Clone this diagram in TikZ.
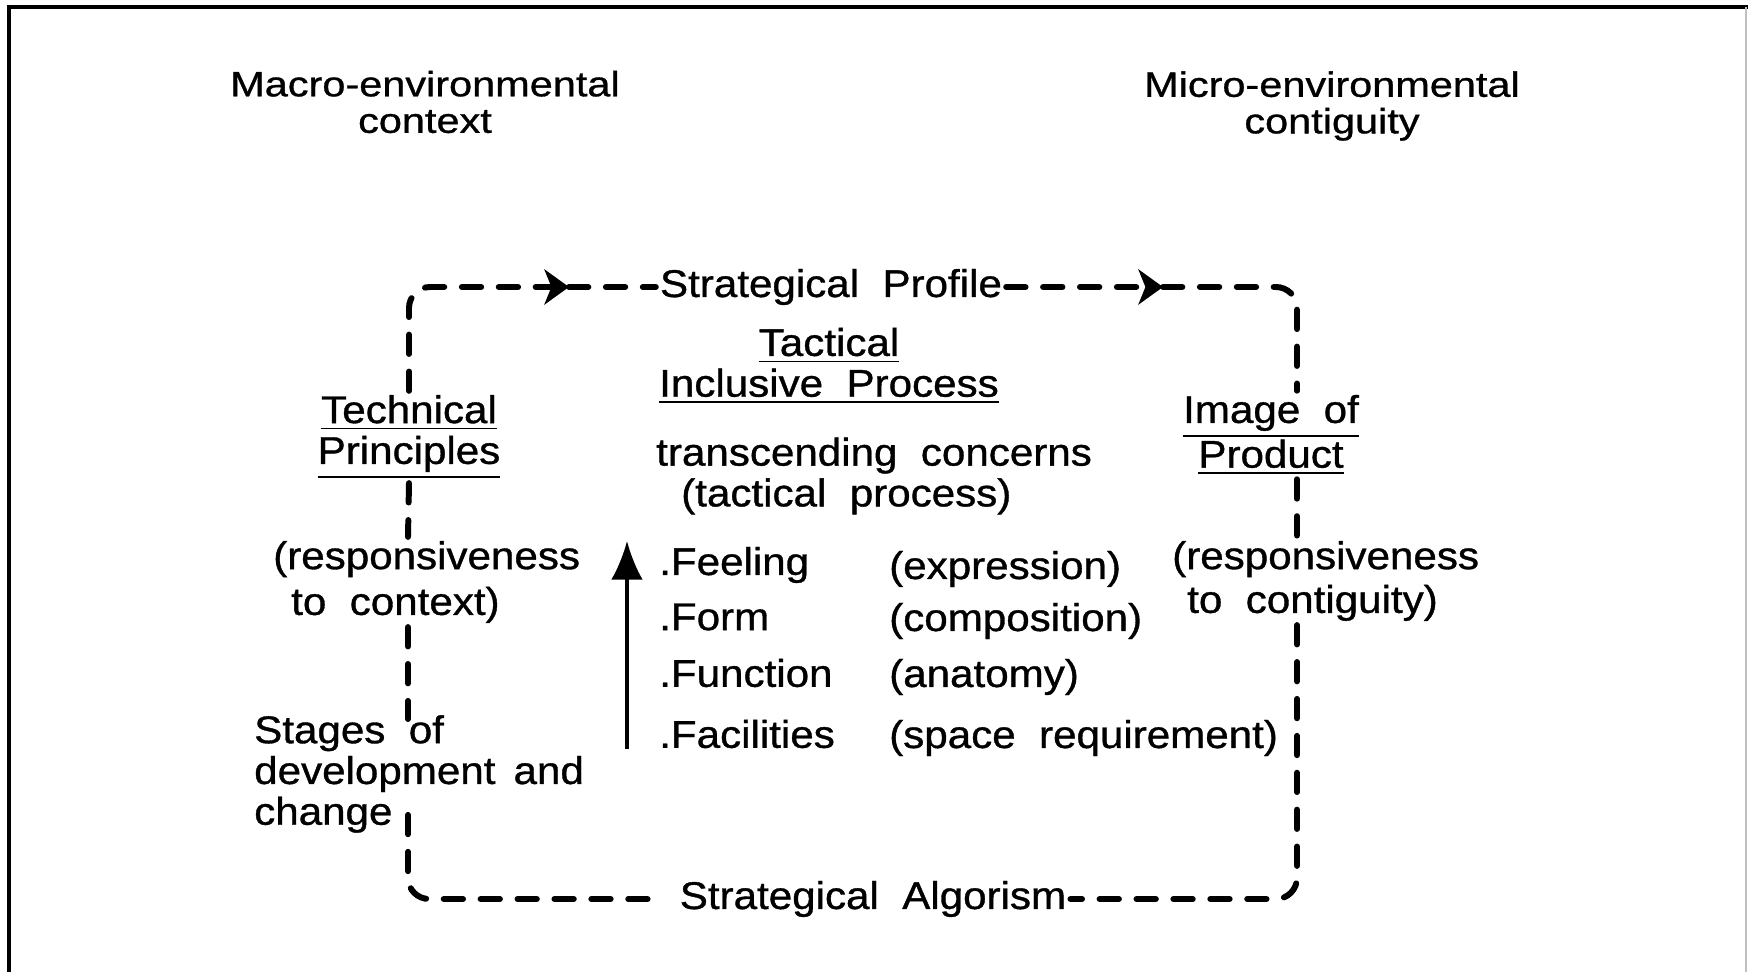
\documentclass[tikz,border=0pt]{standalone}
\usepackage{fontspec}
\setmainfont{Liberation Sans}[FakeStretch=1.09, FakeBold=0.9]
\newfontfamily\headfont{Liberation Sans}[FakeStretch=1.18, FakeBold=0.9]
\usetikzlibrary{arrows.meta, positioning}

\begin{document}
\begin{tikzpicture}[
    dashloop/.style={line width=1.7pt, dash pattern=on 5.5pt off 5pt, line cap=round},
    midarrow/.style={-{Stealth[length=7pt, width=10pt, inset=2pt]}},
    txt/.style={font=\fontsize{11}{11.6}\selectfont, inner sep=1pt,
                execute at begin node={\lineskiplimit=-20pt}},
    hdr/.style={font=\headfont\fontsize{10}{10.4}\selectfont, align=center}]
    \useasboundingbox (0,0) rectangle (17.48,9.72);
    \draw[line width=1pt] (0.09,0) -- (0.09,9.65) -- (17.48,9.65);
    \draw[black!25, line width=0.4pt] (17.46,0) -- (17.46,9.65);

    \node[hdr] (macro) at (4.25,8.70) {Macro-environmental\\context};
    \node[hdr] (micro) at (13.32,8.66) {Micro-environmental\\contiguity};

    % loop of the strategy
    \node[txt] (profile) at (8.31,6.85) {Strategical\ \ Profile};
    \node[txt] (algorism) at (8.73,0.73) {Strategical\ \ Algorism};
    \node[txt, align=center] (technical) at (4.09,5.35) {\underline{Technical}\\\underline{Principles}};
    \node[txt, align=center] (image) at (12.71,5.37) {\underline{Image\ \ of}\\[0.04cm]\underline{Product}};
    \node[txt, align=left, anchor=west] (respctx) at (2.69,3.90) {(responsiveness\\[0.05cm]\hspace{0.18cm}to\ \ context)};
    \node[txt, align=left, anchor=west] (contig) at (11.68,3.91) {(responsiveness\\[0.03cm]\hspace{0.15cm}to\ \ contiguity)};
    \node[txt, align=left, anchor=west] (stages) at (2.50,1.98) {Stages\ \ of\\development\ \,and\\change};

    % tactical process in the middle
    \node[txt, align=center] (tactical) at (8.29,6.06) {\underline{Tactical}\\\underline{Inclusive\ \ Process}};
    \node[txt, align=left, anchor=west] (concerns) at (6.52,4.96) {transcending\ \ concerns\\\hspace{0.25cm}(tactical\ \ process)};
    \foreach \y/\a/\b [count=\i] in {4.07/Feeling/expression, 3.55/Form/composition,
                                     2.99/Function/anatomy, 2.38/Facilities/space\ \ requirement} {
        \node[txt, anchor=west] (q\i) at (6.55,\y) {.\a};
        \node[txt, anchor=west] (r\i) at (8.85,\y-0.04) {(\b)};
    }

    \coordinate (tl) at (4.08,6.85);
    \coordinate (tr) at (12.97,6.85);
    \coordinate (pa) at (5.69,6.85);
    \coordinate (pb) at (11.63,6.85);
    \coordinate (s1) at (4.08,2.53);
    \coordinate (s2) at (4.08,1.72);
    \coordinate (up0) at (6.27,2.23);
    \coordinate (up1) at (6.27,4.31);

    \draw[dashloop, midarrow, rounded corners=6pt] (technical.north) |- (pa);
    \draw[dashloop] (pa) -- (profile.west);
    \draw[dashloop, midarrow] (profile.east) -- (pb);
    \draw[dashloop, rounded corners=6pt] (pb) -| (tr |- image.north);
    \draw[dashloop] (tr |- image.south) -- (tr |- contig.north);
    \draw[dashloop, rounded corners=6pt] (tr |- contig.south) |- (algorism.east);
    \draw[dashloop, rounded corners=6pt] ([xshift=-0.28cm]algorism.west) -| (s2);
    \draw[dashloop] (technical.south) -- (tl |- respctx.north);
    \draw[dashloop] (tl |- respctx.south) -- (s1);

    \draw[line width=0.9pt, -{Latex[length=11pt, width=9pt]}] (up0) -- (up1);
\end{tikzpicture}
\end{document}
